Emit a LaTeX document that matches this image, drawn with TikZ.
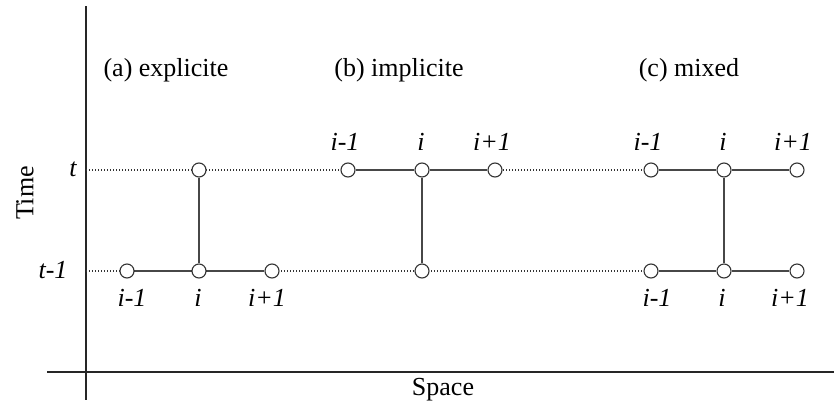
\documentclass[tikz,border=0pt]{standalone}
\usepackage{fontspec}
\setmainfont{Liberation Serif}
\begin{document}
\begin{tikzpicture}[x=1pt,y=-1pt,
  pt/.style={circle,draw=black!80,fill=white,line width=1.1pt,minimum size=14pt,inner sep=0pt},
  solidline/.style={draw=black!72,line width=1.3pt},
  dotline/.style={draw=black!80,line width=1.1pt,dash pattern=on 1.2pt off 1.8pt},
  axis/.style={draw=black!85,line width=1.2pt},
  lab/.style={font=\fontsize{26}{30}\selectfont\itshape,anchor=base,inner sep=0pt},
  head/.style={font=\fontsize{26}{30}\selectfont,anchor=base,inner sep=0pt}]
\useasboundingbox (0,0) rectangle (834,407);
\fill[white] (0,0) rectangle (834,407);
% axes
\coordinate (ytop) at (86,6);
\coordinate (ybot) at (86,400);
\coordinate (xl) at (47,372);
\coordinate (xr) at (834,372);
\draw[axis] (ytop) -- (ybot);
\draw[axis] (xl) -- (xr);
\node[font=\fontsize{26}{30}\selectfont,inner sep=0pt,rotate=90] (time) at (25,193) {Time};
\node[head] (space) at (443,395) {Space};
% dotted rows
\coordinate (dt0) at (86,170);
\coordinate (dt1) at (651,170);
\coordinate (db0) at (86,271);
\coordinate (db1) at (651,271);
\draw[dotline] (dt0) -- (dt1);
\draw[dotline] (db0) -- (db1);
% time labels
\node[lab] (tl) at (73,176) {t};
\node[lab] (t1l) at (53,278) {t-1};
% headers
\node[head] (ha) at (166,76) {(a) explicite};
\node[head] (hb) at (399,76) {(b) implicite};
\node[head] (hc) at (689,76) {(c) mixed};
% (a)
\node[pt] (a0) at (199,170) {};
\node[pt] (a1) at (127,271) {};
\node[pt] (a2) at (199,271) {};
\node[pt] (a3) at (272,271) {};
\draw[solidline] (a0) -- (a2);
\draw[solidline] (a1) -- (a2);
\draw[solidline] (a2) -- (a3);
\node[lab] (la1) at (132,306) {i-1};
\node[lab] (la2) at (198,306) {i};
\node[lab] (la3) at (267,306) {i+1};
% (b)
\node[pt] (b1) at (348,170) {};
\node[pt] (b2) at (422,170) {};
\node[pt] (b3) at (495,170) {};
\node[pt] (b0) at (422,271) {};
\draw[solidline] (b1) -- (b2);
\draw[solidline] (b2) -- (b3);
\draw[solidline] (b2) -- (b0);
\node[lab] (lb1) at (345,150) {i-1};
\node[lab] (lb2) at (421,150) {i};
\node[lab] (lb3) at (492,150) {i+1};
% (c)
\node[pt] (c1) at (651,170) {};
\node[pt] (c2) at (724,170) {};
\node[pt] (c3) at (797,170) {};
\node[pt] (c4) at (651,271) {};
\node[pt] (c5) at (724,271) {};
\node[pt] (c6) at (797,271) {};
\draw[solidline] (c1) -- (c2);
\draw[solidline] (c2) -- (c3);
\draw[solidline] (c4) -- (c5);
\draw[solidline] (c5) -- (c6);
\draw[solidline] (c2) -- (c5);
\node[lab] (lc1) at (648,150) {i-1};
\node[lab] (lc2) at (723,150) {i};
\node[lab] (lc3) at (793,150) {i+1};
\node[lab] (lc4) at (657,306) {i-1};
\node[lab] (lc5) at (722,306) {i};
\node[lab] (lc6) at (790,306) {i+1};
\end{tikzpicture}
\end{document}
